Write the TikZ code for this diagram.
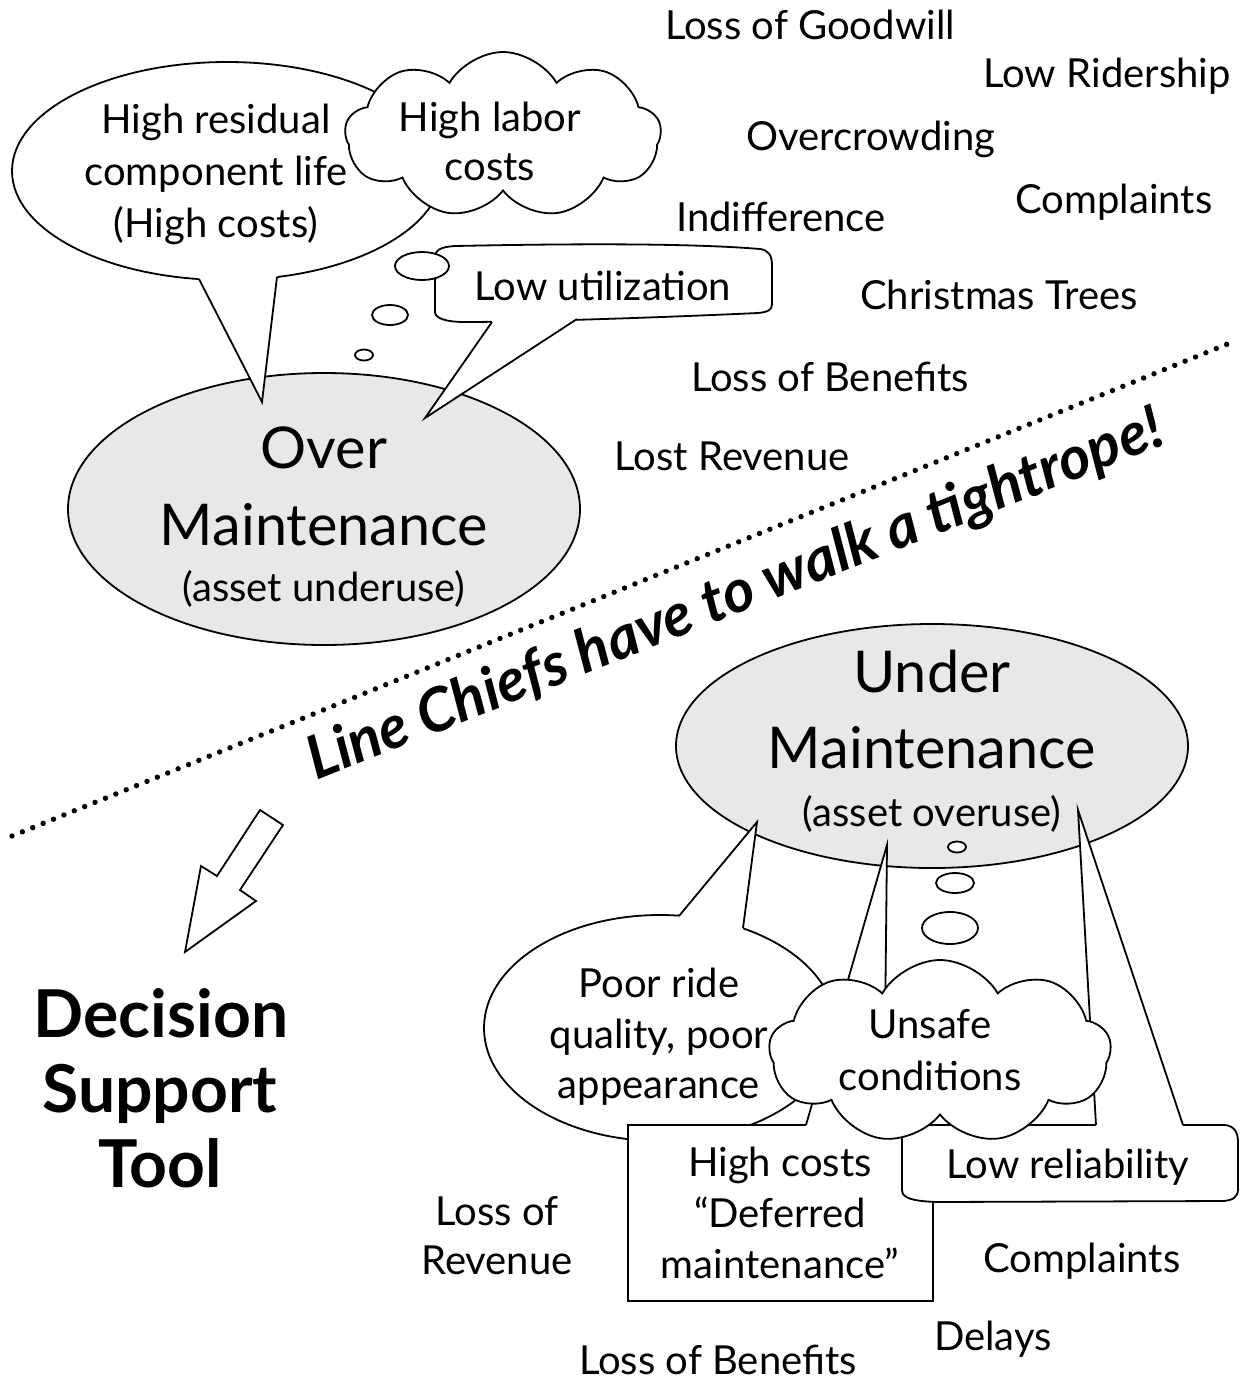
\documentclass[tikz,border=0pt]{standalone}
\usepackage{fontspec}
\setmainfont{Lato}
\usetikzlibrary{shapes.symbols,shapes.geometric}
\definecolor{fillgray}{HTML}{E8E8E8}
\begin{document}
\begin{tikzpicture}[x=0.5pt,y=-0.5pt,
  outl/.style={draw=black,line width=0.9pt},
  txt/.style={anchor=base,inner sep=0pt,font=\fontsize{20}{20}\selectfont},
  bigtxt/.style={anchor=base,inner sep=0pt,font=\fontsize{28.8}{29}\selectfont},
  dstxt/.style={anchor=base,inner sep=0pt,font=\fontsize{33}{33}\selectfont\bfseries},
  bubble/.style={ellipse,draw=black,line width=0.9pt,fill=white,inner sep=0pt},
  mainell/.style={ellipse,draw=black,line width=0.9pt,fill=fillgray,inner sep=0pt},
  puff/.style={cloud,cloud puffs=9,cloud puff arc=120,cloud ignores aspect,draw=black,line width=0.9pt,fill=white,inner sep=0pt},
  tailfill/.style={fill=white,draw=none},
  tailline/.style={draw=black,line width=0.9pt,line join=miter},
  dotline/.style={line width=2.7pt,line cap=round,dash pattern=on 0pt off 5.6pt},
]
\useasboundingbox (0,0) rectangle (1241,1383);

% ---------------- Over maintenance ----------------
\node (overE) [mainell,minimum width=256pt,minimum height=136pt] at (324,509) {};

% High residual bubble
\node (resE) [bubble,minimum width=215pt,minimum height=109pt] at (227,171) {};
\coordinate (resA) at (199,279);
\coordinate (resT) at (262,402);
\coordinate (resB) at (277,277);
\fill[tailfill] (196,268) -- (resA) -- (resT) -- (resB) -- (279,266) -- cycle;
\draw[tailline] (resA) -- (resT) -- (resB);

% High labor cloud
\node (laborC) [puff,minimum width=158pt,minimum height=83pt] at (503,135) {};

% Low utilization box
\draw[outl,fill=white] (435,312) -- (435,258) .. controls (435,250) and (440,247) .. (455,246)
  .. controls (600,243) and (700,244) .. (760,249) .. controls (768,250) and (772,255) .. (772,265)
  -- (772,304) .. controls (772,310) and (768,312) .. (758,313)
  .. controls (650,318) and (520,322) .. (465,322) .. controls (445,322) and (435,318) .. (435,312) -- cycle;
\coordinate (utA) at (492,322);
\coordinate (utT) at (425,418);
\coordinate (utB) at (577,319);
\fill[tailfill] (492,314) -- (utA) -- (utT) -- (utB) -- (577,312) -- cycle;
\draw[tailline] (utA) -- (utT) -- (utB);
\node (th1) [bubble,minimum width=27pt,minimum height=14pt] at (422,266) {};
\node (th2) [bubble,minimum width=18pt,minimum height=10pt] at (390,315) {};
\node (th3) [bubble,minimum width=9pt,minimum height=5.5pt] at (364,355) {};

% texts upper-left
\node (t1) [txt] at (216,133) {High residual};
\node (t2) [txt] at (216,185) {component life};
\node (t3) [txt] at (216,237) {(High costs)};
\node (t4) [txt] at (490,131) {High labor};
\node (t5) [txt] at (490,180) {costs};
\node (t6) [txt] at (603,300) {Low utilization};
\node (t7) [bigtxt] at (324,468) {Over};
\node (t8) [bigtxt] at (324,545) {Maintenance};
\node (t9) [txt] at (324,601) {(asset underuse)};

% upper-right consequences
\node (c1) [txt] at (810,39) {Loss of Goodwill};
\node (c2) [txt] at (1107,87) {Low Ridership};
\node (c3) [txt] at (871,150) {Overcrowding};
\node (c4) [txt] at (1114,213) {Complaints};
\node (c5) [txt] at (781,231) {Indifference};
\node (c6) [txt] at (999,309) {Christmas Trees};
\node (c7) [txt] at (830,391) {Loss of Benefits};
\node (c8) [txt] at (732,470) {Lost Revenue};

% ---------------- tightrope ----------------
\coordinate (d1) at (12,836);
\coordinate (d2) at (1230,343);
\draw[dotline] (d1) -- (d2);
\node (banner) [anchor=base,inner sep=0pt,rotate=21.6,font=\fontsize{30}{30}\selectfont\bfseries\itshape] at (742,612) {Line Chiefs have to walk a tightrope!};

% big arrow
\draw[outl,line join=miter] (260,810) -- (283,825) -- (240,890) -- (256,901) -- (185,952) -- (201,866) -- (217,876) -- cycle;

% Decision Support Tool
\node (ds1) [dstxt] at (161,1037) {Decision};
\node (ds2) [dstxt] at (160,1112) {Support};
\node (ds3) [dstxt] at (160,1187) {Tool};

% ---------------- Under maintenance ----------------
\node (underE) [mainell,minimum width=256pt,minimum height=122pt] at (932,746) {};

% Poor ride bubble
\node (poorE) [bubble,minimum width=176pt,minimum height=113pt] at (660,1028) {};
\coordinate (prA) at (679,916);
\coordinate (prT) at (757,822);
\coordinate (prB) at (743,928);
\fill[tailfill] (677,927) -- (prA) -- (prT) -- (prB) -- (741,938) -- cycle;
\draw[tailline] (prA) -- (prT) -- (prB);

% High costs box
\draw[draw=black,line width=1.1pt,fill=white] (628,1125) rectangle (933,1301);
\coordinate (hcA) at (806,1125);
\coordinate (hcT) at (887,845);
\coordinate (hcB) at (884,1125);
\fill[tailfill] (806,1131) -- (hcA) -- (hcT) -- (hcB) -- (884,1131) -- cycle;
\draw[tailline] (hcA) -- (hcT) -- (hcB);

% Low reliability box
\draw[outl,fill=white] (902,1125) -- (1225,1125) .. controls (1234,1126) and (1238,1132) .. (1238,1142)
  -- (1238,1189) .. controls (1238,1197) and (1233,1200) .. (1224,1201)
  -- (936,1202) .. controls (912,1201) and (902,1198) .. (902,1190) -- cycle;
\coordinate (lrA) at (1096,1125);
\coordinate (lrT) at (1078,810);
\coordinate (lrB) at (1183,1125);
\fill[tailfill] (1096,1131) -- (lrA) -- (lrT) -- (lrB) -- (1183,1131) -- cycle;
\draw[tailline] (lrA) -- (lrT) -- (lrB);

% Unsafe cloud + thought bubbles
\node (unsafeC) [puff,minimum width=171pt,minimum height=92pt] at (940,1052) {};
\node (th4) [bubble,minimum width=9pt,minimum height=5.5pt] at (957,847) {};
\node (th5) [bubble,minimum width=19pt,minimum height=10pt] at (955,883) {};
\node (th6) [bubble,minimum width=28pt,minimum height=16pt] at (950,928) {};

% texts lower-right
\node (u1) [bigtxt] at (932,692) {Under};
\node (u2) [bigtxt] at (932,768) {Maintenance};
\node (u3) [txt] at (932,826) {(asset overuse)};
\node (p1) [txt] at (659,997) {Poor ride};
\node (p2) [txt] at (659,1048) {quality, poor};
\node (p3) [txt] at (659,1098) {appearance};
\node (s1) [txt] at (930,1038) {Unsafe};
\node (s2) [txt] at (930,1090) {conditions};
\node (h1) [txt] at (780,1176) {High costs};
\node (h2) [txt] at (780,1227) {“Deferred};
\node (h3) [txt] at (780,1278) {maintenance”};
\node (r1) [txt] at (1068,1178) {Low reliability};

% lower consequences
\node (b1) [txt] at (497,1225) {Loss of};
\node (b2) [txt] at (497,1274) {Revenue};
\node (b3) [txt] at (1082,1272) {Complaints};
\node (b4) [txt] at (993,1350) {Delays};
\node (b5) [txt] at (718,1374) {Loss of Benefits};
\end{tikzpicture}
\end{document}
